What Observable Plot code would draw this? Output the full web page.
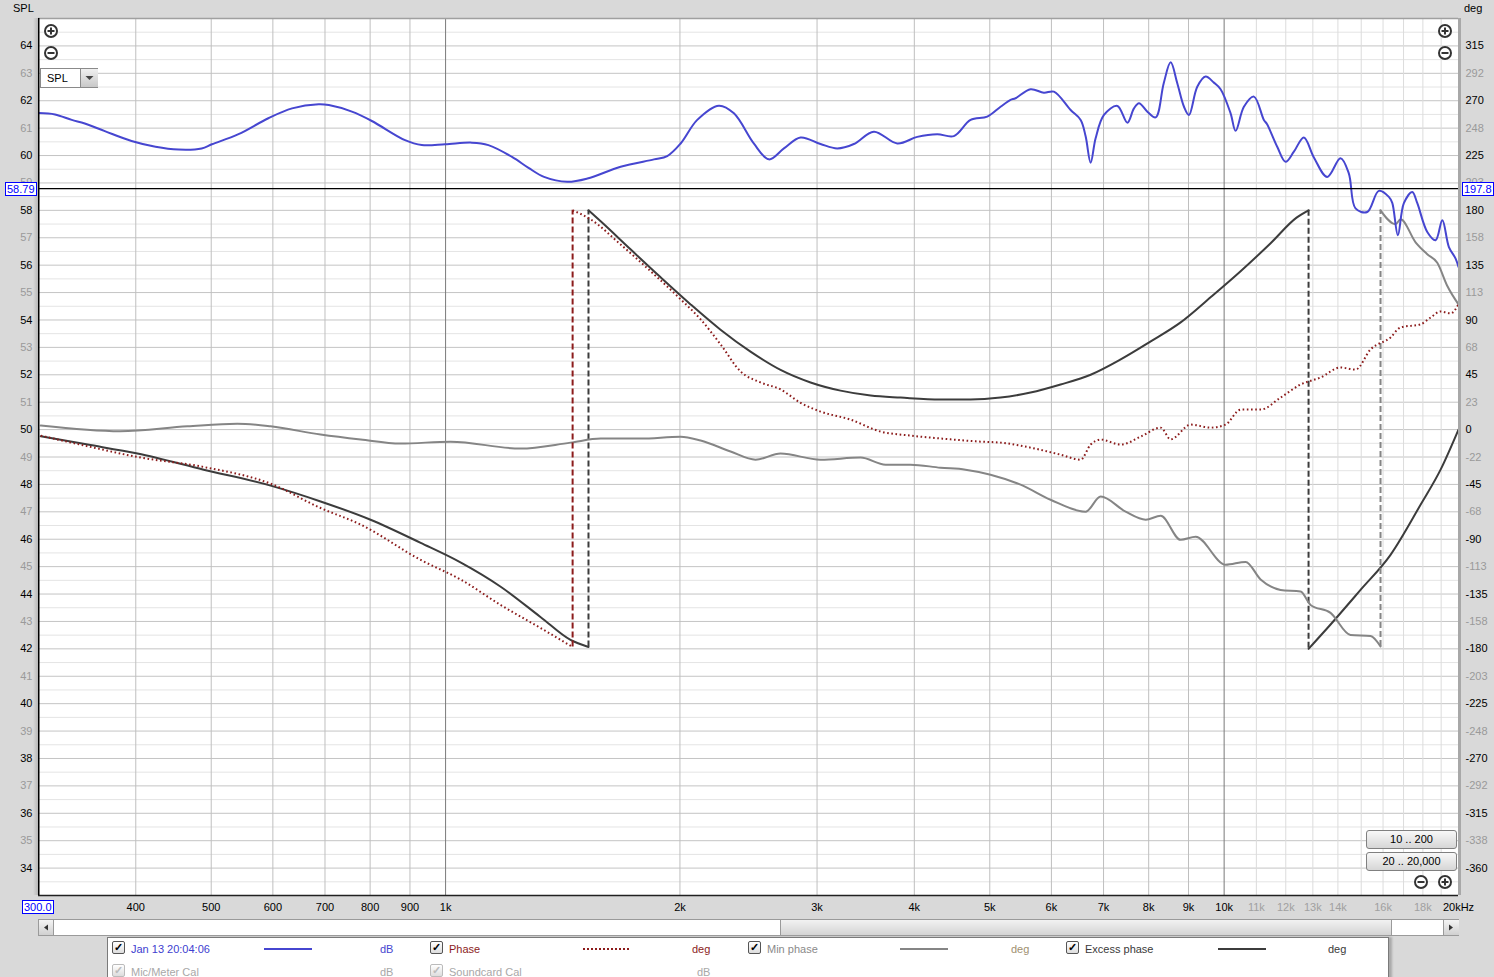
<!DOCTYPE html>
<html><head><meta charset="utf-8">
<script src="https://cdn.jsdelivr.net/npm/d3@7"></script>
<script src="https://cdn.jsdelivr.net/npm/@observablehq/plot@0.6"></script>
<style>
body{margin:0;background:#d9d9d9;font-family:"Liberation Sans",Arial,sans-serif;font-size:11px;overflow:hidden}
#wrap{position:relative;width:1494px;height:977px;overflow:hidden}
#chart{position:absolute;left:0;top:0}
.a{position:absolute;white-space:nowrap;line-height:13px}
.box{border:1px solid #0000ff;color:#0000ff;background:#fff;padding:0 1px;line-height:12px}
.btn{border:1px solid #808080;border-radius:3px;background:linear-gradient(#f8f8f8,#d6d6d6);text-align:center;line-height:17px;height:17px}
.cb{width:11px;height:11px;border:1px solid #555;border-radius:2px;background:linear-gradient(#fff,#ddd);font-size:11px;line-height:11px;text-align:center;font-weight:bold}
.cbg{border-color:#bbb;color:#bbb}
</style></head>
<body><div id="wrap"><div id="chart"></div></div>
<script>
// ---- axis / cursor values ----
const xDomain = [300, 20000];
const yDomain = [33, 65];
const degZeroDb = 50, degPerDb = 22.5;
const cursorFreq = 300.0, cursorSpl = 58.79, cursorDeg = 197.8;
const yTicks = d3.range(34, 65);
const rightLabels = ["-360","-338","-315","-292","-270","-248","-225","-203","-180","-158","-135","-113","-90","-68","-45","-22","0","23","45","68","90","113","135","158","180","203","225","248","270","292","315"];
const xGrid = [400,500,600,700,800,900,2000,3000,4000,5000,6000,7000,8000,9000];
const xGridDark = [1000,10000];
const xGridLight = [11000,12000,13000,14000,15000,16000,17000,18000,19000];
const xLabels = [400,500,600,700,800,900,1000,2000,3000,4000,5000,6000,7000,8000,9000,10000];
const xLabelsLight = [11000,12000,13000,14000,16000,18000];

// ---- SPL (dB) ----
const splFreq = [300,315,331,344,365,395,424,454,486,501,542,592,635,687,708,758,804,887,932,999,1081,1135,1217,1278,1338,1433,1521,1678,1852,1926,2004,2105,2244,2346,2488,2602,2720,2857,3031,3185,3345,3549,3804,4035,4280,4496,4724,4963,5162,5317,5396,5641,5868,6044,6351,6542,6639,6738,6838,7009,7292,7511,7659,7774,7969,8167,8364,8537,8706,8881,9012,9236,9466,9702,9896,10193,10345,10602,10920,11247,11350,11700,11993,12291,12659,13040,13566,14109,14459,14749,15268,15800,16277,16442,16717,17016,17444,17706,18236,18689,19065,19441,19830,20000];
const splDb = [61.55,61.50,61.30,61.17,60.89,60.53,60.32,60.22,60.26,60.41,60.78,61.36,61.72,61.87,61.84,61.60,61.26,60.56,60.38,60.41,60.47,60.38,59.95,59.55,59.22,59.04,59.16,59.59,59.86,59.98,60.44,61.30,61.82,61.54,60.44,59.86,60.26,60.66,60.42,60.26,60.42,60.87,60.44,60.68,60.78,60.71,61.30,61.42,61.78,62.03,62.09,62.42,62.29,62.33,61.66,61.30,60.70,59.74,60.63,61.48,61.81,61.20,61.72,61.91,61.60,61.39,62.64,63.40,62.64,61.78,61.48,62.51,62.88,62.66,62.42,61.54,60.90,61.78,62.15,61.30,61.15,60.32,59.77,60.14,60.66,59.93,59.22,59.90,59.35,58.07,57.94,58.71,58.49,58.27,57.09,58.26,58.67,58.26,57.21,56.91,57.64,56.66,56.24,55.93];

// ---- Phase (deg) ----
const phaseFreq = [302,347,402,489,596,691,778,929,1045,1177,1325,1456,1456,1535,1678,1834,2004,2126,2255,2393,2538,2693,2857,3031,3312,3620,3956,4452,4865,5162,5641,6165,6542,6738,6941,7364,7813,8289,8537,9057,9607,10043,10499,11139,11817,12537,13300,14109,14749,15418,16358,16850,17877,18414,18968,19538,20000];
const phaseDeg = [-5,-13.7,-22.5,-30.7,-44.4,-64.4,-78,-107,-123,-144,-163,-178.5,180,172.7,152,130,107,90.5,70,47.7,38.7,33,22,14.8,8.2,-1.6,-4.9,-8,-9.9,-10.7,-14.8,-20.6,-24.7,-12.3,-8.2,-12.3,-5.8,1.6,-8,4.1,1.6,4.1,16.4,16.4,26.3,37,42.8,51,49.3,65.8,75.7,83.9,86.4,92,97,95.4,102.8];

// ---- Min phase (deg) ----
const minFreq = [302,382,466,540,596,691,778,875,1015,1248,1447,1582,1780,2004,2126,2323,2501,2693,3031,3412,3674,3956,4322,4654,5011,5477,5985,6639,6941,7473,7930,8289,8793,9192,10043,10656,11139,11817,12537,12913,13699,14532,15418,15881,15881,16603,16850,17616,18236,18784,19350,20000];
const minDeg = [3.3,-1.4,2.7,4.9,2.7,-4.1,-8.2,-11.5,-9.9,-15.6,-10.7,-7.4,-7.4,-5.8,-9,-18,-24.7,-19.7,-24.7,-23,-28.8,-28.8,-31.3,-32.9,-37,-45.2,-57.6,-67.4,-55,-67.4,-74,-70.7,-90.5,-88,-111,-108.6,-123,-131.6,-133,-144,-150.5,-168.6,-169.4,-178,180,168.6,172.7,153.8,144,137,117.9,102.8];

// ---- Excess phase (deg) ----
const excessFreq = [302,347,402,489,596,691,801,929,1045,1177,1325,1447,1526,1526,1582,1728,1889,2064,2255,2464,2693,2943,3216,3515,3841,4322,4724,5162,5641,6165,6738,7364,8048,8793,9607,10499,11474,12389,12836,12836,13699,14969,16358,17877,18968,20000];
const excessDeg = [-5.5,-12.3,-19.7,-32.9,-46,-59,-74,-93,-109,-129,-154,-172.7,-178.5,180,171,148,125,102.8,82,64,49,38.7,32,28,26.3,24.7,24.7,26.3,30.4,37,45,57.6,72.4,88,108.6,130,153,174,180,-180,-160,-131.6,-102.8,-61.7,-32.9,0];

const toY = d => degZeroDb + d / degPerDb;
function build(freq, deg) {
  const pts = [], wraps = [];
  let seg = 0;
  for (let i = 0; i < freq.length; i++) {
    if (i > 0 && Math.abs(deg[i] - deg[i-1]) > 180) {
      seg++;
      wraps.push({f: freq[i], y1: toY(deg[i-1]), y2: toY(deg[i])});
    }
    pts.push({f: freq[i], y: toY(deg[i]), seg});
  }
  return {pts, wraps};
}
const spl = splFreq.map((f, i) => ({f, y: splDb[i]}));
const ph = build(phaseFreq, phaseDeg);
const mp = build(minFreq, minDeg);
const ex = build(excessFreq, excessDeg);

const cPhase = "#8c1c1c", cMin = "#858585", cEx = "#3c3c3c", cSpl = "#4646d0";
const halfTicks = d3.range(33.5, 65, 1);

const chart = Plot.plot({
  width: 1494, height: 918,
  marginLeft: 38, marginRight: 36, marginTop: 18, marginBottom: 23,
  x: {type: "log", domain: xDomain, axis: null},
  y: {domain: yDomain, axis: null},
  style: {background: "transparent", fontFamily: "Liberation Sans, Arial, sans-serif", fontSize: "11px", overflow: "visible"},
  marks: [
    Plot.frame({fill: "white", stroke: "none"}),
    Plot.ruleY(halfTicks, {stroke: "#e4e4e4"}),
    Plot.ruleY(yTicks, {stroke: "#c4c4c4"}),
    Plot.ruleX(xGridLight, {stroke: "#dcdcdc"}),
    Plot.ruleX(xGrid, {stroke: "#bfbfbf"}),
    Plot.ruleX(xGridDark, {stroke: "#7a7a7a"}),
    // excess phase
    Plot.line(ex.pts, {x: "f", y: "y", z: "seg", stroke: cEx, strokeWidth: 2, curve: "monotone-x"}),
    Plot.ruleX(ex.wraps, {x: "f", y1: "y1", y2: "y2", stroke: cEx, strokeWidth: 2, strokeDasharray: "6,3"}),
    // min phase
    Plot.line(mp.pts, {x: "f", y: "y", z: "seg", stroke: cMin, strokeWidth: 2, curve: "monotone-x"}),
    Plot.ruleX(mp.wraps, {x: "f", y1: "y1", y2: "y2", stroke: cMin, strokeWidth: 2, strokeDasharray: "6,3"}),
    // phase (dotted)
    Plot.line(ph.pts, {x: "f", y: "y", z: "seg", stroke: cPhase, strokeWidth: 2, strokeDasharray: "1.6,2.6", strokeLinecap: "butt", curve: "monotone-x"}),
    Plot.ruleX(ph.wraps, {x: "f", y1: "y1", y2: "y2", stroke: cPhase, strokeWidth: 2, strokeDasharray: "6,3"}),
    // SPL
    Plot.line(spl, {x: "f", y: "y", stroke: cSpl, strokeWidth: 2, curve: "catmull-rom"}),
    // cursor + borders
    Plot.ruleY([cursorSpl], {stroke: "black", strokeWidth: 1.2}),
    Plot.ruleY([yDomain[1]], {stroke: "#a0a0a0", strokeWidth: 1.5}),
    Plot.ruleY([yDomain[0]], {stroke: "#202020", strokeWidth: 1.5}),
    Plot.ruleX([xDomain[1]], {stroke: "#a8a8a8", strokeWidth: 3, dx: 1}),
    Plot.ruleX([cursorFreq], {stroke: "black", strokeWidth: 2}),
    // axis labels
    Plot.text(yTicks.filter(d => d % 2 === 0), {x: xDomain[0], y: d => d, text: d => String(d), textAnchor: "end", dx: -6, fill: "#000"}),
    Plot.text(yTicks.filter(d => d % 2 !== 0), {x: xDomain[0], y: d => d, text: d => String(d), textAnchor: "end", dx: -6, fill: "#9a9a9a"}),
    Plot.text(yTicks.filter(d => d % 2 === 0), {x: xDomain[1], y: d => d, text: d => rightLabels[d - 34], textAnchor: "start", dx: 7, fill: "#000"}),
    Plot.text(yTicks.filter(d => d % 2 !== 0), {x: xDomain[1], y: d => d, text: d => rightLabels[d - 34], textAnchor: "start", dx: 7, fill: "#9a9a9a"}),
    Plot.text(xLabels, {x: d => d, y: yDomain[0], dy: 12, text: d => d < 1000 ? String(d) : (d / 1000) + "k", fill: "#000"}),
    Plot.text(xLabelsLight, {x: d => d, y: yDomain[0], dy: 12, text: d => (d / 1000) + "k", fill: "#a0a0a0"}),
    Plot.text([20000], {x: d => d, y: yDomain[0], dy: 12, text: d => "20kHz", fill: "#000"})
  ]
});
document.getElementById("chart").appendChild(chart);

// ---- UI chrome ----
const wrap = document.getElementById("wrap");
function add(html) { wrap.insertAdjacentHTML("beforeend", html); }
add(`<div class="a" style="left:13px;top:2px">SPL</div>`);
add(`<div class="a" style="left:1464px;top:2px">deg</div>`);
add(`<div class="a" style="left:33px;top:18px;width:5px;height:877px;background:linear-gradient(90deg,#d9d9d9,#b8b8b8)"></div>`);
add(`<div class="a box" style="left:5px;top:182px">${cursorSpl.toFixed(2)}</div>`);
add(`<div class="a box" style="left:1462px;top:182px">${cursorDeg.toFixed(1)}</div>`);
add(`<div class="a box" style="left:22px;top:900px">${cursorFreq.toFixed(1)}</div>`);
function icon(x, y, plus) {
  return `<svg class="a" style="left:${x-8}px;top:${y-8}px" width="16" height="16"><circle cx="8" cy="8" r="6" fill="white" stroke="#333" stroke-width="2"/><line x1="4.5" y1="8" x2="11.5" y2="8" stroke="#333" stroke-width="2"/>${plus ? '<line x1="8" y1="4.5" x2="8" y2="11.5" stroke="#333" stroke-width="2"/>' : ''}</svg>`;
}
add(icon(51, 31, true)); add(icon(51, 53, false));
add(icon(1445, 31, true)); add(icon(1445, 53, false));
add(icon(1421, 882, false)); add(icon(1445, 882, true));
add(`<div class="a" style="left:40px;top:68px;width:56px;height:18px;border:1px solid #8a8a8a;background:#fff"><span class="a" style="left:6px;top:3px">SPL</span><div class="a" style="left:39px;top:0;width:17px;height:18px;background:linear-gradient(#f0f0f0,#c8c8c8);border-left:1px solid #8a8a8a"><svg width="17" height="18"><path d="M4.5 7 L12.5 7 L8.5 11 Z" fill="#444"/></svg></div></div>`);
add(`<div class="a btn" style="left:1366px;top:830px;width:89px">10 .. 200</div>`);
add(`<div class="a btn" style="left:1366px;top:852px;width:89px">20 .. 20,000</div>`);
// scrollbar
add(`<div class="a" style="left:38px;top:919px;width:1419px;height:15px;background:#fff;border:1px solid #9a9a9a"></div>`);
add(`<div class="a" style="left:39px;top:920px;width:14px;height:15px;background:linear-gradient(#f4f4f4,#d0d0d0);border-right:1px solid #9a9a9a"><svg width="14" height="15"><path d="M5 7.5 L9 4.5 L9 10.5 Z" fill="#333"/></svg></div>`);
add(`<div class="a" style="left:780px;top:920px;width:610px;height:15px;background:linear-gradient(#f2f2f2,#d4d4d4);border-left:1px solid #9a9a9a;border-right:1px solid #9a9a9a"></div>`);
add(`<div class="a" style="left:1443px;top:920px;width:15px;height:15px;background:linear-gradient(#f4f4f4,#d0d0d0);border-left:1px solid #9a9a9a"><svg width="14" height="15"><path d="M9 7.5 L5 4.5 L5 10.5 Z" fill="#333"/></svg></div>`);
// legend
add(`<div class="a" style="left:107px;top:937px;width:1280px;height:50px;background:#fff;border:1px solid #7a7a7a;box-shadow:3px 0 2px #aaa"></div>`);
function cb(x, y, grey) { return `<div class="a cb${grey ? ' cbg' : ''}" style="left:${x}px;top:${y}px">✓</div>`; }
function txt(x, y, s, c) { return `<div class="a" style="left:${x}px;top:${y}px;color:${c}">${s}</div>`; }
function ln(x1, x2, y, c, dash) { return `<svg class="a" style="left:${x1}px;top:${y-2}px" width="${x2-x1}" height="4"><line x1="0" y1="2" x2="${x2-x1}" y2="2" stroke="${c}" stroke-width="2" ${dash ? 'stroke-dasharray="2,2"' : ''}/></svg>`; }
add(cb(112, 941)); add(txt(131, 943, "Jan 13 20:04:06", "#4040d0")); add(ln(264, 312, 949, cSpl)); add(txt(380, 943, "dB", "#4646d0"));
add(cb(430, 941)); add(txt(449, 943, "Phase", "#8c1c1c")); add(ln(583, 630, 949, cPhase, true)); add(txt(692, 943, "deg", "#8c1c1c"));
add(cb(748, 941)); add(txt(767, 943, "Min phase", "#8a8a8a")); add(ln(900, 948, 949, cMin)); add(txt(1011, 943, "deg", "#a09070"));
add(cb(1066, 941)); add(txt(1085, 943, "Excess phase", "#3a3a3a")); add(ln(1218, 1266, 949, cEx)); add(txt(1328, 943, "deg", "#3a3a3a"));
add(cb(112, 964, true)); add(txt(131, 966, "Mic/Meter Cal", "#a8a8a8")); add(txt(380, 966, "dB", "#a8a8a8"));
add(cb(430, 964, true)); add(txt(449, 966, "Soundcard Cal", "#a8a8a8")); add(txt(697, 966, "dB", "#a8a8a8"));
</script></body></html>
